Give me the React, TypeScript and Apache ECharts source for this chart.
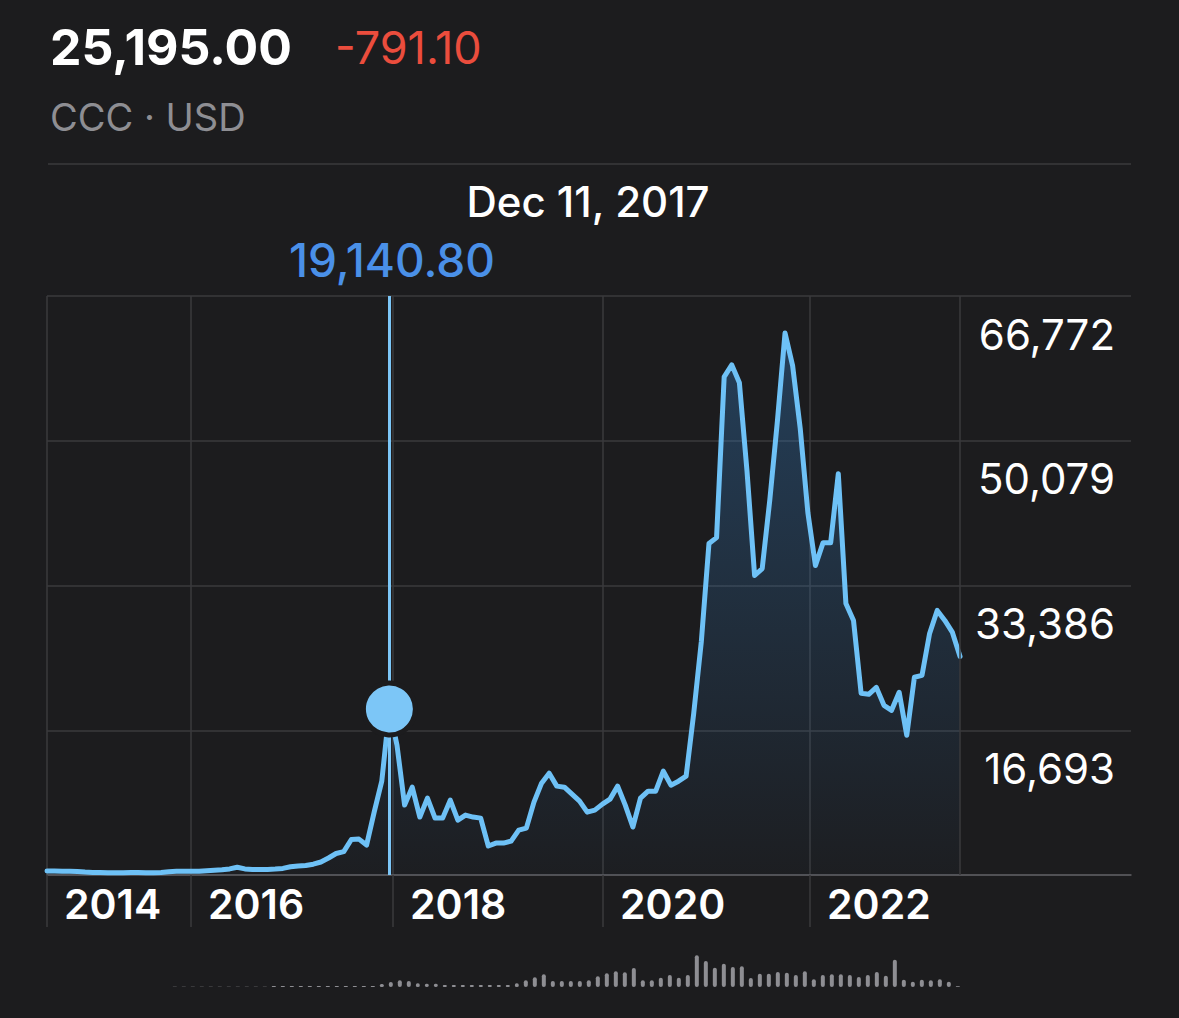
import React, { useEffect, useRef } from "react";
import * as echarts from "echarts";

// ---- data ----
const HEADER_PRICE = "25,195.00";
const HEADER_CHANGE = "-791.10";
const HEADER_SUB = "CCC · USD";
const CURSOR_DATE = "Dec 11, 2017";
const CURSOR_VALUE = 19140.8;
const CURSOR_INDEX = 45;

// price samples, evenly spaced from late 2014 to 2023
const PRICES = [
  470, 455, 440, 420, 400, 340, 300, 280, 260, 250,
  270, 280, 290, 260, 270, 300, 380, 420, 440, 420,
  430, 500, 560, 600, 700, 900, 700, 640, 620, 640,
  680, 760, 950, 1050, 1100, 1250, 1500, 1960, 2480, 2700,
  4090, 4140, 3450, 7250, 10820, 19140.8, 14970, 8060, 10130, 6680,
  8860, 6560, 6560, 8630, 6330, 6910, 6680, 6560, 3340, 3680,
  3680, 3910, 5180, 5410, 8400, 10590, 11740, 10250, 10130, 9320,
  8520, 7250, 7480, 8170, 8750, 10250, 8060, 5530, 8860, 9670,
  9670, 11970, 10360, 10820, 11400, 18650, 26940, 38220, 38910, 57450,
  58830, 56760, 46600, 34540, 35340, 43280, 52380, 62500, 58710, 51460,
  41790, 35690, 38330, 38330, 46280, 31310, 29360, 20950, 20840, 21640,
  19570, 18990, 21070, 16120, 22800, 23020, 27860, 30510, 29360, 27980,
  25195,
];

// relative volume (index units)
const VOLUMES = [
  0, 0, 0, 0, 0, 0, 0, 0, 0, 0,
  0, 0, 0, 0, 3, 3, 3, 3, 3, 3,
  3, 3, 3, 3, 3, 10, 10, 10, 10, 10,
  10, 10, 10, 10, 10, 10, 10, 30, 50, 67,
  60, 37, 33, 33, 20, 20, 20, 20, 20, 20,
  20, 20, 37, 67, 97, 127, 60, 60, 60, 60,
  67, 107, 137, 157, 147, 190, 67, 67, 93, 120,
  93, 120, 317, 260, 193, 233, 200, 207, 90, 133,
  133, 150, 143, 120, 157, 77, 120, 127, 127, 120,
  100, 120, 150, 113, 273, 73, 53, 73, 67, 77,
  53, 7,
];

const Y_MAX = 66772;
const Y_INTERVAL = 16693;

// x positions (price sample index) of the year grid lines and their labels
const YEAR_TICKS = [0, 18.93, 45.48, 73.08, 100.29];
const YEAR_LABELS = ["2014", "2016", "2018", "2020", "2022"];
const PRICE_X_MAX = 142.47;
const VOL_X_MIN = -0.2;
const VOL_X_MAX = 120.24;
const VOL_Y_MAX = 320;

const BG = "#1c1c1e";
const GRID = "#3a3a3c";
const LINE = "#6ec1f6";
const FONT = "Inter, 'Noto Sans', sans-serif";

export default function App() {
  const ref = useRef<HTMLDivElement>(null);

  useEffect(() => {
    document.body.style.margin = "0";
    document.body.style.background = BG;
    if (!ref.current) return;
    const chart = echarts.init(ref.current, null, { renderer: "svg" });

    const fmtNum = (v: number) =>
      v.toLocaleString("en-US", { maximumFractionDigits: 0 });

    const option: any = {
      animation: false,
      backgroundColor: BG,
      grid: [
        { left: 47, right: 48, top: 296, bottom: 143, outerBoundsMode: "none", containLabel: false },
        { left: 47, right: 48, top: 955, bottom: 31, outerBoundsMode: "none", containLabel: false },
      ],
      xAxis: [
        {
          type: "value",
          gridIndex: 0,
          min: 0,
          max: PRICE_X_MAX,
          axisLine: { show: true, lineStyle: { color: "#5c5c60", width: 1.5 } },
          axisTick: {
            show: true,
            customValues: YEAR_TICKS,
            length: 52,
            inside: false,
            lineStyle: { color: GRID, width: 1.5 },
          },
          splitLine: { show: true, lineStyle: { color: GRID, width: 1.5 } },
          axisLabel: {
            show: true,
            customValues: YEAR_TICKS,
            formatter: (v: number) => {
              let best = 0;
              YEAR_TICKS.forEach((t, k) => {
                if (Math.abs(t - v) < Math.abs(YEAR_TICKS[best] - v)) best = k;
              });
              return YEAR_LABELS[best];
            },
            color: "#ffffff",
            fontSize: 41,
            fontWeight: 600,
            fontFamily: FONT,
            align: "left",
            padding: [0, 0, 0, 17],
            margin: 8,
          },
        },
        {
          type: "value",
          gridIndex: 1,
          min: VOL_X_MIN,
          max: VOL_X_MAX,
          show: false,
        },
      ],
      yAxis: [
        {
          type: "value",
          gridIndex: 0,
          position: "right",
          min: 0,
          max: Y_MAX,
          interval: Y_INTERVAL,
          axisLine: { show: false },
          axisTick: { show: false },
          splitLine: { show: true, lineStyle: { color: GRID, width: 1.5 } },
          axisLabel: {
            inside: true,
            margin: 16,
            formatter: (v: number) => (v === 0 ? "" : fmtNum(v)),
            color: "#ffffff",
            fontSize: 42,
            fontWeight: 400,
            fontFamily: FONT,
            verticalAlign: "top",
            lineHeight: 76,
          },
        },
        {
          type: "value",
          gridIndex: 1,
          min: 0,
          max: VOL_Y_MAX,
          show: false,
        },
      ],
      series: [
        {
          type: "line",
          xAxisIndex: 0,
          yAxisIndex: 0,
          data: PRICES.map((v, i) => [i, v]),
          showSymbol: false,
          symbol: "none",
          lineStyle: { color: LINE, width: 5, join: "round", cap: "round" },
          areaStyle: {
            origin: "auto",
            color: new echarts.graphic.LinearGradient(0, 0, 0, 1, [
              { offset: 0, color: "rgba(52,128,200,0.5)" },
              { offset: 1, color: "rgba(52,128,200,0.03)" },
            ]),
          },
          markLine: {
            silent: true,
            symbol: "none",
            label: { show: false },
            data: [
              { xAxis: PRICES.length - 1, lineStyle: { color: GRID, width: 1.5, type: "solid" } },
              { xAxis: CURSOR_INDEX, lineStyle: { color: "#7cc6f7", width: 3, type: "solid" } },
            ],
          },
          markPoint: {
            silent: true,
            data: [
              {
                coord: [CURSOR_INDEX, CURSOR_VALUE],
                symbol: "circle",
                symbolSize: 52,
                itemStyle: { color: "#7cc6f7", borderColor: BG, borderWidth: 5 },
                label: { show: false },
              },
            ],
          },
          z: 3,
        },
        {
          type: "bar",
          xAxisIndex: 1,
          yAxisIndex: 1,
          data: VOLUMES.map((v, j) => [j, v]),
          barWidth: 4,
          itemStyle: { color: "#8e8e93", borderRadius: 2 },
        },
      ],
      graphic: [
        {
          type: "text",
          x: 50,
          y: 47,
          style: { text: HEADER_PRICE, fill: "#ffffff", font: `bold 50px ${FONT}`, textVerticalAlign: "middle" },
        },
        {
          type: "text",
          x: 335,
          y: 47,
          style: { text: HEADER_CHANGE, fill: "#eb4d3d", font: `400 45px ${FONT}`, textVerticalAlign: "middle" },
        },
        {
          type: "text",
          x: 50,
          y: 117,
          style: { text: HEADER_SUB, fill: "#8e8e93", font: `400 38px ${FONT}`, textVerticalAlign: "middle" },
        },
        {
          type: "line",
          shape: { x1: 48, y1: 164, x2: 1131, y2: 164 },
          style: { stroke: GRID, lineWidth: 1.5 },
        },
        {
          type: "text",
          x: 588,
          y: 201,
          style: { text: CURSOR_DATE, fill: "#ffffff", font: `500 42px ${FONT}`, textAlign: "center", textVerticalAlign: "middle" },
        },
        {
          type: "text",
          x: 392,
          y: 260,
          style: {
            text: CURSOR_VALUE.toLocaleString("en-US", { minimumFractionDigits: 2 }),
            fill: "#4a90e8",
            font: `500 46px ${FONT}`,
            textAlign: "center",
            textVerticalAlign: "middle",
          },
        },
      ],
    };

    chart.setOption(option);
    return () => chart.dispose();
  }, []);

  return <div ref={ref} style={{ width: 1179, height: 1018 }} />;
}
